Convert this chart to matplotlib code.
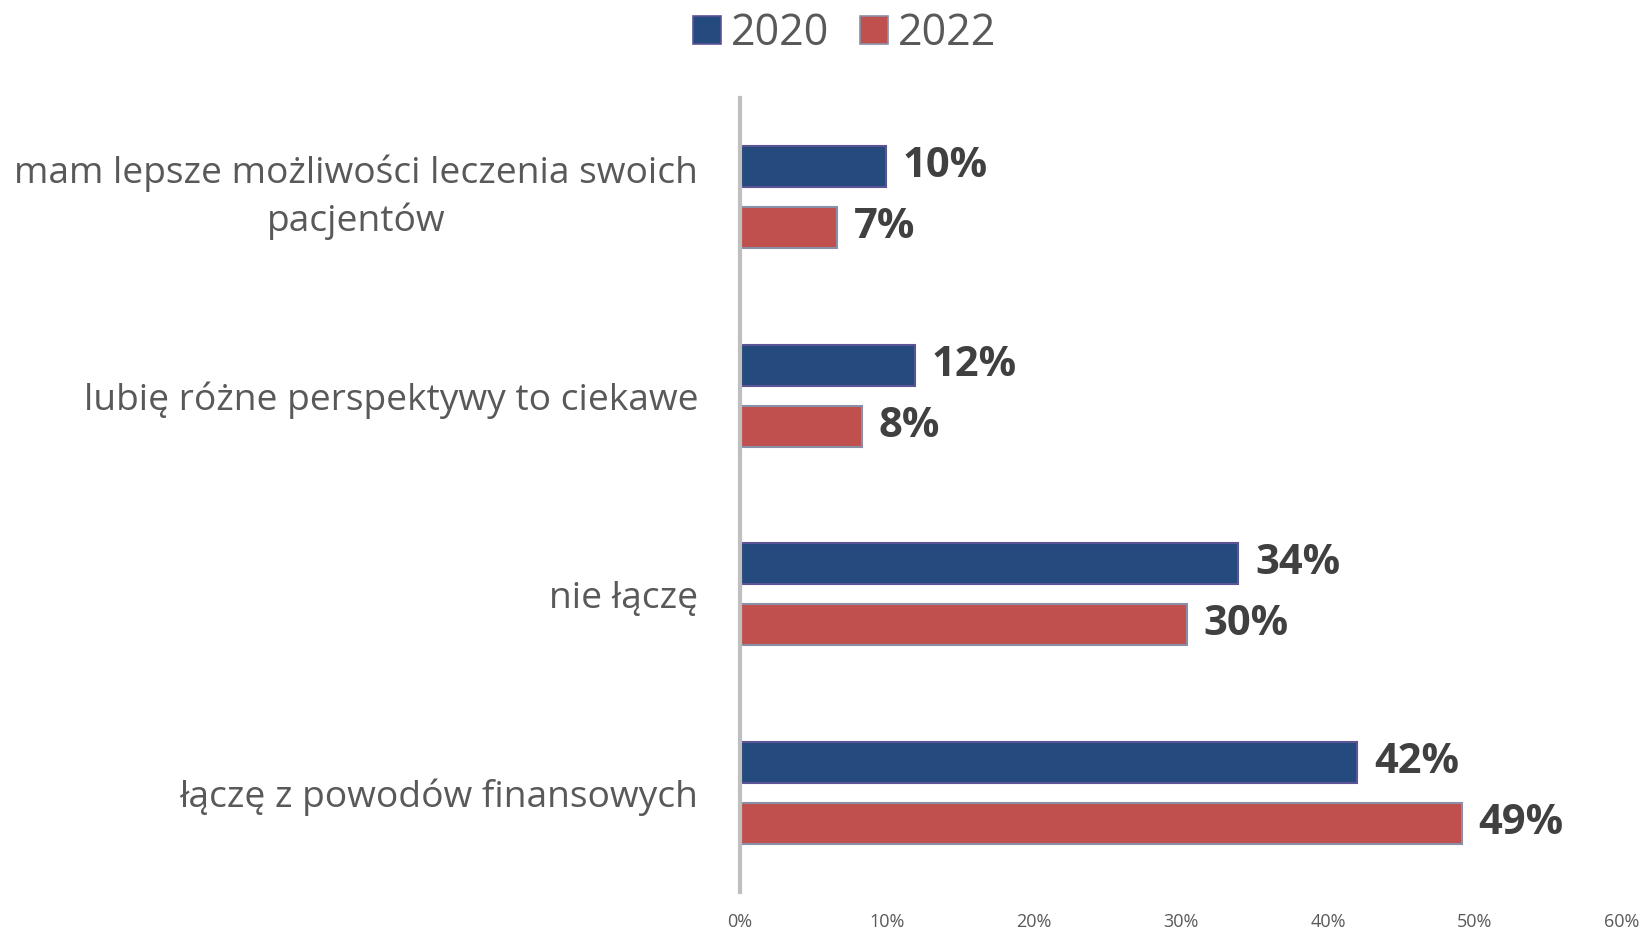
import numpy as np
import matplotlib.pyplot as plt
from matplotlib.lines import Line2D

plt.rcParams['font.family'] = ['Open Sans', 'DejaVu Sans']

# Data (top to bottom as displayed)
categories = [
    "mam lepsze możliwości leczenia swoich\npacjentów",
    "lubię różne perspektywy to ciekawe",
    "nie łączę",
    "łączę z powodów finansowych",
]
vals_2020 = [9.9, 11.9, 33.9, 42.0]
vals_2022 = [6.6, 8.3, 30.4, 49.1]
series_names = ["2020", "2022"]

c2020, e2020 = "#244A7E", "#5B5596"
c2022, e2022 = "#C0504D", "#8A8FA8"
txt = "#595959"

fig = plt.figure(figsize=(16.46, 9.33), dpi=100)
ax = fig.add_axes([0.4496, 0.044, 0.5358, 0.851])

y = np.arange(len(categories))
off, h = 0.154, 0.207
b1 = ax.barh(y - off, vals_2020, height=h, color=c2020, edgecolor=e2020, linewidth=1.5)
b2 = ax.barh(y + off, vals_2022, height=h, color=c2022, edgecolor=e2022, linewidth=1.5)

for bars, vals in ((b1, vals_2020), (b2, vals_2022)):
    for bar, v in zip(bars, vals):
        ax.text(v + 1.15, bar.get_y() + bar.get_height() / 2, f"{v:.0f}%",
                va="center", ha="left", fontsize=30, fontweight="bold", color="#404040")

ax.set_xlim(0, 60)
ax.set_ylim(3.5, -0.5)
ax.set_xticks(np.arange(0, 61, 10))
ax.set_xticklabels([f"{t}%" for t in range(0, 61, 10)], fontsize=13, color=txt)
ax.set_yticks(y)
ylabels = ax.set_yticklabels(categories, fontsize=26.7, color=txt, ha="right",
                             multialignment="center", linespacing=1.35)
for lab in ylabels:
    if "\n" in lab.get_text():
        lab.set_verticalalignment("center")
ax.tick_params(length=0, axis="y", pad=30)
ax.tick_params(length=0, axis="x", pad=15)
for s in ("top", "right", "bottom"):
    ax.spines[s].set_visible(False)
ax.spines["left"].set_color("#BFBFBF")
ax.spines["left"].set_linewidth(3)

handles = [Line2D([], [], marker="s", linestyle="none", markersize=20,
                  markerfacecolor=c, markeredgecolor=e, markeredgewidth=1.2)
           for c, e in ((c2020, e2020), (c2022, e2022))]
leg = fig.legend(handles, series_names, loc="center", bbox_to_anchor=(0.511, 0.964),
                 ncol=2, frameon=False, fontsize=31, handletextpad=0.05,
                 columnspacing=0.55, handlelength=1.0, labelcolor=txt)

fig.savefig("out.png", dpi=100)
